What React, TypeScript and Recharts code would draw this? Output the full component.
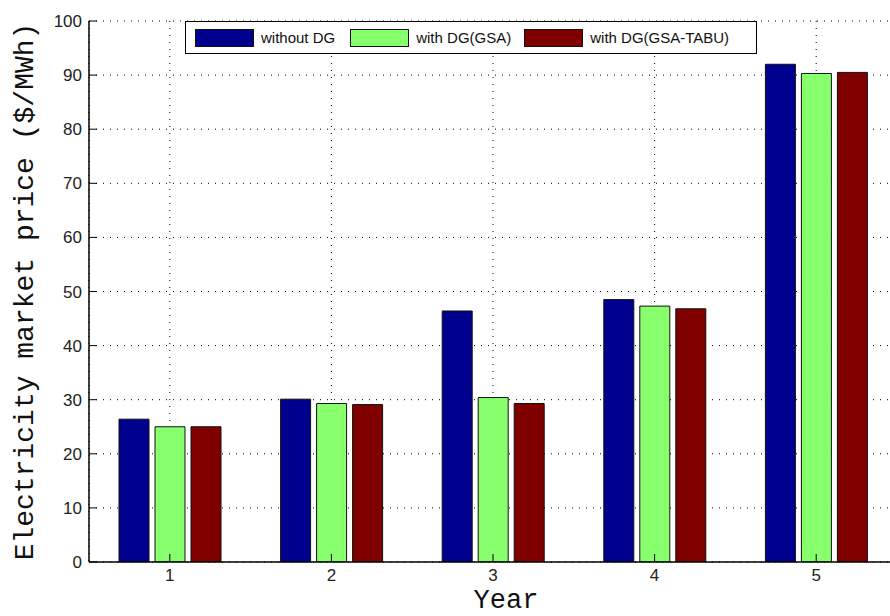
import React from 'react';
import { BarChart, Bar, XAxis, YAxis, CartesianGrid, Legend } from 'recharts';

const years = ['1', '2', '3', '4', '5'];
const withoutDG = [26.4, 30.1, 46.4, 48.5, 92.0];
const withGSA = [25.0, 29.3, 30.4, 47.3, 90.3];
const withGSATabu = [25.0, 29.1, 29.3, 46.8, 90.5];
const yTicks = [0, 10, 20, 30, 40, 50, 60, 70, 80, 90, 100];

const seriesNames = ['without DG', 'with DG(GSA)', 'with DG(GSA-TABU)'];
const seriesKeys = ['a', 'b', 'c'];
const seriesColors = ['#00008F', '#88FF6C', '#800000'];

const data = years.map((y, i) => ({
  year: y,
  a: withoutDG[i],
  b: withGSA[i],
  c: withGSATabu[i],
}));

const tickFont = { fontFamily: '"Liberation Sans", Arial, sans-serif', fontSize: 17, fill: '#222' };
const monoFont = '"Liberation Mono", "DejaVu Sans Mono", monospace';

const LegendBox = () => (
  <div
    style={{
      boxSizing: 'border-box',
      width: 572,
      height: 33,
      border: '1.5px solid #000',
      background: '#fff',
      display: 'flex',
      alignItems: 'center',
      paddingLeft: 9,
      fontFamily: '"Liberation Sans", Arial, sans-serif',
      fontSize: 15,
      color: '#111',
    }}
  >
    {seriesNames.map((n, i) => (
      <div key={n} style={{ display: 'flex', alignItems: 'center', marginRight: i === 0 ? 15 : 13 }}>
        <div
          style={{
            boxSizing: 'border-box',
            width: 59,
            height: 18,
            background: seriesColors[i],
            border: '1px solid #111',
            marginRight: 7,
          }}
        />
        <span style={{ whiteSpace: 'nowrap' }}>{n}</span>
      </div>
    ))}
  </div>
);

export default function App() {
  return (
    <div style={{ position: 'absolute', left: 0, top: 0, width: 890, height: 616, overflow: 'hidden', background: '#fff' }}>
      <BarChart
        width={920}
        height={616}
        data={data}
        margin={{ top: 21, right: 23, bottom: 0, left: 0 }}
        barSize={30}
        barGap={6}
      >
        <CartesianGrid
          xAxisId="b"
          yAxisId="l"
          stroke="#000"
          strokeDasharray="1 6"
          strokeWidth={1}
        />
        <XAxis
          xAxisId="t"
          dataKey="year"
          orientation="top"
          height={0}
          axisLine={{ stroke: '#000', strokeWidth: 1.5 }}
          tickLine={{ stroke: '#000' }}
          tickSize={-8}
          tickFormatter={() => ''}
        />
        <XAxis
          xAxisId="b"
          dataKey="year"
          height={54}
          axisLine={{ stroke: '#000', strokeWidth: 1.5 }}
          tickLine={{ stroke: '#000' }}
          tickSize={-8}
          tickMargin={15}
          tick={tickFont}
          label={{
            content: (props: any) => {
              const vb = props.viewBox || { x: 89, width: 808, y: 562 };
              return (
                <text
                  x={vb.x + vb.width / 2 + 13}
                  y={608}
                  textAnchor="middle"
                  fontFamily={monoFont}
                  fontSize={27}
                  fill="#111"
                >
                  Year
                </text>
              );
            },
          }}
        />
        <YAxis
          yAxisId="l"
          type="number"
          domain={[0, 100]}
          ticks={yTicks}
          width={89}
          axisLine={{ stroke: '#000', strokeWidth: 1.5 }}
          tickLine={{ stroke: '#000' }}
          tickSize={-8}
          tickMargin={15}
          tick={tickFont}
          interval={0}
          allowDataOverflow
          label={{
            content: () => (
              <text
                x={33}
                y={291.5}
                transform="rotate(-90, 33, 291.5)"
                textAnchor="middle"
                fontFamily={monoFont}
                fontSize={28}
                fill="#111"
              >
                Electricity market price ($/MWh)
              </text>
            ),
          }}
        />
        <Legend
          verticalAlign="middle"
          layout="horizontal"
          content={() => <LegendBox />}
          wrapperStyle={{ position: 'absolute', left: 185, top: 21, width: 572, height: 33 }}
        />
        {seriesKeys.map((k, i) => (
          <Bar
            key={k}
            dataKey={k}
            name={seriesNames[i]}
            xAxisId="b"
            yAxisId="l"
            fill={seriesColors[i]}
            stroke="#111"
            strokeWidth={1}
            isAnimationActive={false}
          />
        ))}
      </BarChart>
    </div>
  );
}
